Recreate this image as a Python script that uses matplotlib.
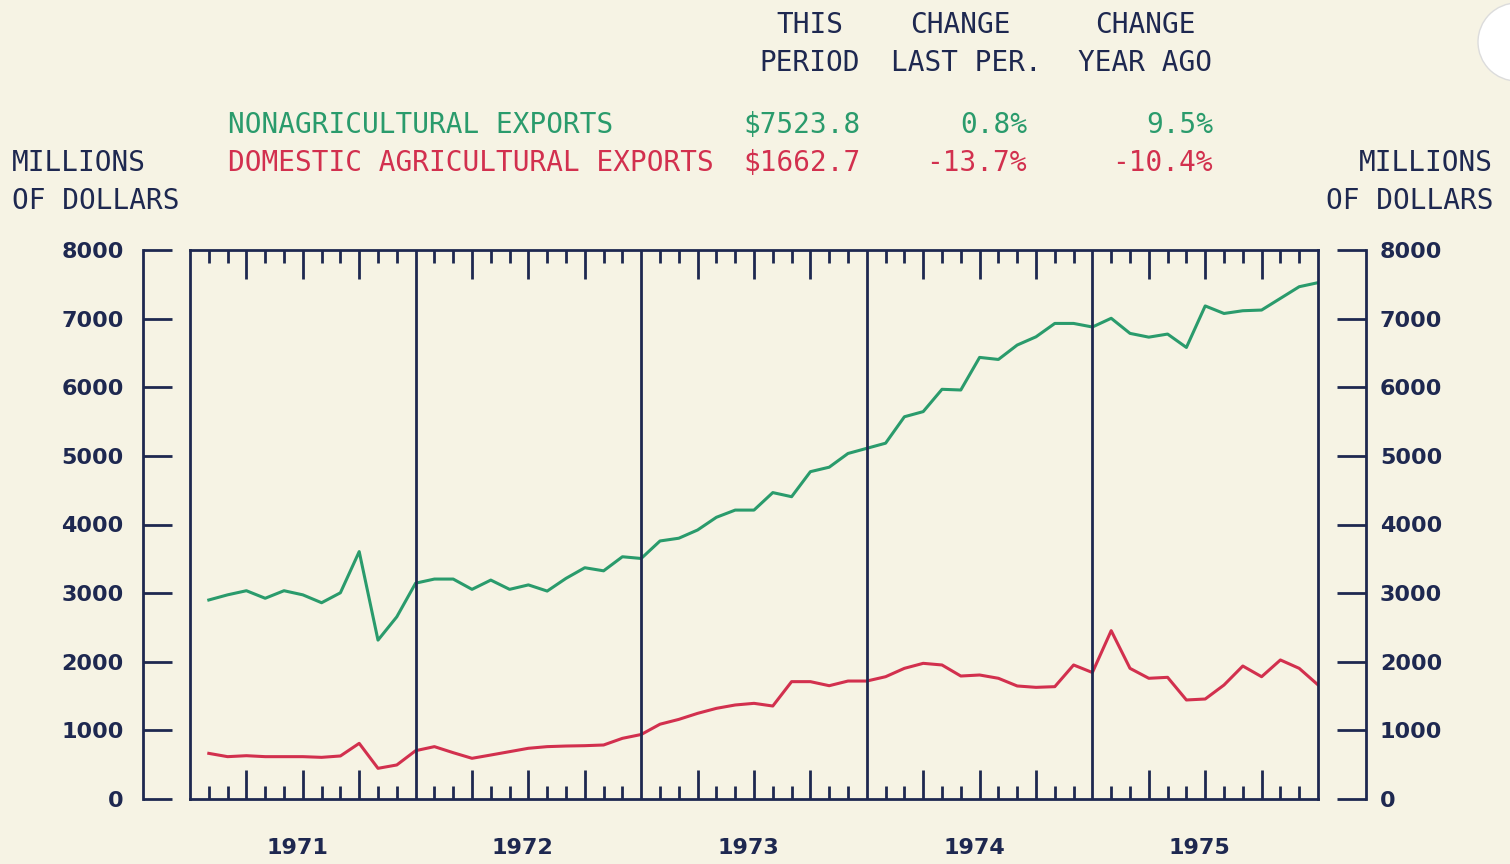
import matplotlib.pyplot as plt
import numpy as np
from matplotlib.patches import Ellipse
from matplotlib.transforms import blended_transform_factory

# monthly values, Jan 1971 - Dec 1975, millions of dollars
months = np.arange(1, 61)
nonag = [2900, 2975, 3035, 2925, 3035, 2975, 2860, 3005, 3605, 2315, 2655, 3145,
         3205, 3205, 3055, 3190, 3055, 3120, 3030, 3215, 3370, 3325, 3530, 3505,
         3760, 3800, 3920, 4105, 4210, 4210, 4465, 4405, 4770, 4835, 5035, 5110,
         5185, 5570, 5645, 5970, 5960, 6435, 6405, 6615, 6735, 6930, 6930, 6878,
         7005, 6785, 6730, 6775, 6580, 7185, 7075, 7115, 7125, 7295, 7465, 7524]
agri = [665, 617, 631, 617, 617, 617, 607, 627, 811, 447, 496, 704,
        763, 675, 593, 641, 690, 739, 763, 772, 777, 787, 884, 940,
        1090, 1160, 1248, 1321, 1370, 1394, 1355, 1710, 1710, 1651, 1719, 1719,
        1782, 1904, 1977, 1953, 1792, 1807, 1759, 1647, 1627, 1637, 1953, 1843,
        2453, 1904, 1759, 1773, 1443, 1457, 1661, 1938, 1782, 2026, 1904, 1663]
years = ['1971', '1972', '1973', '1974', '1975']
yticks = np.arange(0, 8001, 1000)

bg = '#f6f3e4'
navy = '#1e2850'
green = '#2a9b6c'
red = '#d2304e'

W, H = 1510, 864
fig = plt.figure(figsize=(W / 100, H / 100), dpi=100, facecolor=bg)


def box(x0, y0, x1, y1):
    return [x0 / W, 1 - y1 / H, (x1 - x0) / W, (y1 - y0) / H]


def ftext(x, y, s, **kw):
    kw.setdefault('family', 'DejaVu Sans Mono')
    kw.setdefault('fontsize', 20)
    kw.setdefault('va', 'center')
    fig.text(x / W, 1 - y / H, s, **kw)


# main plot box
ax = fig.add_axes(box(190, 250, 1318, 799))
ax.set_facecolor('none')
ax.plot(months, nonag, color=green, lw=2.2)
ax.plot(months, agri, color=red, lw=2.2)
ax.set_xlim(0, 60)
ax.set_ylim(0, 8000)
ax.set_yticks([])
for m in [12, 24, 36, 48]:
    ax.axvline(m, color=navy, lw=2)
for s in ax.spines.values():
    s.set_color(navy)
    s.set_linewidth(2)
ax.set_xticks([m for m in months if m % 3 == 0 and m % 12 != 0])
ax.set_xticks([m for m in months if m % 3 != 0], minor=True)
ax.tick_params(axis='x', which='both', direction='in', top=True, bottom=True,
               labelbottom=False, color=navy, width=2)
ax.tick_params(axis='x', which='major', length=21)
ax.tick_params(axis='x', which='minor', length=9.5)

trans = blended_transform_factory(ax.transData, ax.transAxes)
for i, yr in enumerate(years):
    ax.text(6 + 12 * i - 0.3, -0.089, yr, transform=trans, ha='center',
            va='center', fontsize=16, color=navy, family='DejaVu Sans',
            weight='bold')

# separate value scales on both sides
for x0, x1, side, pad in [(143, 172, 'left', 14), (1337, 1366, 'right', 10)]:
    a = fig.add_axes(box(x0, 250, x1, 799))
    a.set_facecolor('none')
    a.set_ylim(0, 8000)
    a.set_xticks([])
    a.set_yticks(yticks)
    for name, s in a.spines.items():
        s.set_visible(name == side)
        s.set_color(navy)
        s.set_linewidth(2)
    if side == 'right':
        a.yaxis.tick_right()
    a.tick_params(axis='y', direction='in', length=21, width=2, color=navy,
                  pad=pad, labelsize=16, labelcolor=navy)
    for lab in a.get_yticklabels():
        lab.set_fontweight('bold')

# header table
ftext(810, 25, 'THIS', ha='center', color=navy)
ftext(810, 63, 'PERIOD', ha='center', color=navy)
ftext(960, 25, 'CHANGE', ha='center', color=navy)
ftext(966, 63, 'LAST PER.', ha='center', color=navy)
ftext(1145, 25, 'CHANGE', ha='center', color=navy)
ftext(1145, 63, 'YEAR AGO', ha='center', color=navy)

ftext(228, 125, 'NONAGRICULTURAL EXPORTS', ha='left', color=green)
ftext(743, 125, '$7523.8', ha='left', color=green)
ftext(1027, 125, '0.8%', ha='right', color=green)
ftext(1213, 125, '9.5%', ha='right', color=green)

ftext(228, 163, 'DOMESTIC AGRICULTURAL EXPORTS', ha='left', color=red)
ftext(743, 163, '$1662.7', ha='left', color=red)
ftext(1027, 163, '-13.7%', ha='right', color=red)
ftext(1213, 163, '-10.4%', ha='right', color=red)

ftext(12, 163, 'MILLIONS', ha='left', color=navy)
ftext(12, 201, 'OF DOLLARS', ha='left', color=navy)
ftext(1493, 163, 'MILLIONS', ha='right', color=navy)
ftext(1493, 201, 'OF DOLLARS', ha='right', color=navy)

# hole punch at the top right of the scanned sheet
fig.patches.append(Ellipse((1517 / W, 1 - 42 / H), 78 / W, 78 / H,
                           transform=fig.transFigure, facecolor='white',
                           edgecolor='#dcdcdc', lw=1))

fig.savefig('out.png', dpi=100, facecolor=bg)
